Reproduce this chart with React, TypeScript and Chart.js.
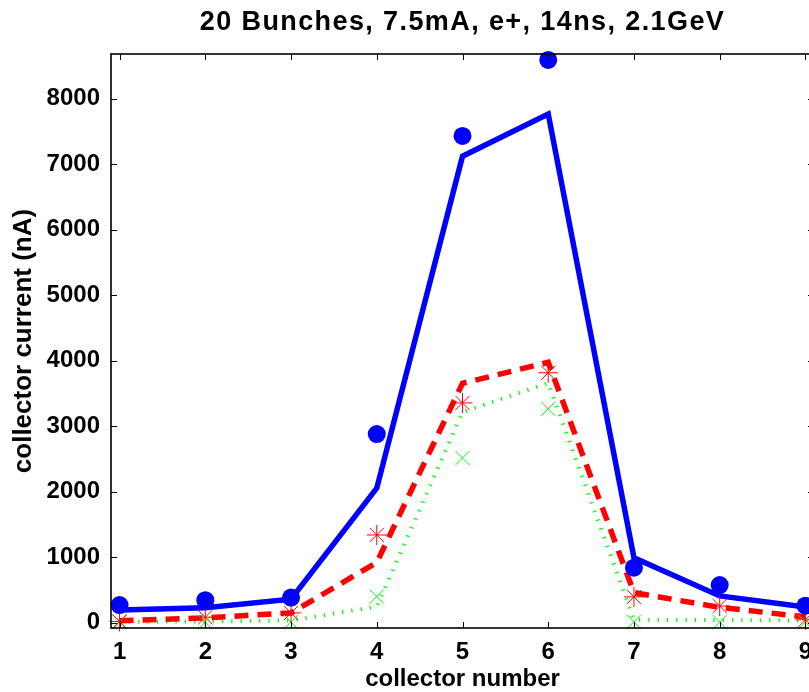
import React, { useEffect, useRef } from 'react';
import { Chart, registerables } from 'chart.js';

Chart.register(...registerables);

// ---- data ----
const collectors = [1, 2, 3, 4, 5, 6, 7, 8, 9];
const blueLine = [195, 230, 360, 2055, 7120, 7765, 990, 410, 240];
const blueDots = [270, 345, 385, 2880, 7430, 8590, 840, 575, 260];
const redLine = [30, 75, 150, 920, 3655, 3975, 460, 235, 90];
const redStars = [20, 85, 150, 1340, 3355, 3815, 395, 255, 45];
const greenLine = [15, 20, 35, 245, 3215, 3660, 45, 40, 35];
const greenCross = [10, 10, 10, 400, 2515, 3265, 15, 10, 10];

const xTicks = [1, 2, 3, 4, 5, 6, 7, 8, 9];
const yTicks = [0, 1000, 2000, 3000, 4000, 5000, 6000, 7000, 8000];

const titleText = '20 Bunches, 7.5mA, e+, 14ns, 2.1GeV';
const xTitle = 'collector number';
const yTitle = 'collector current (nA)';

const FONT = "'Liberation Sans', Arial, Helvetica, sans-serif";
const BLUE = 'rgb(0,0,255)';
const RED = 'rgb(255,0,0)';
const GREEN = 'rgb(0,255,0)';

const W = 830;
const H = 692;

export default function App() {
  const ref = useRef<HTMLCanvasElement>(null);

  useEffect(() => {
    const canvas = ref.current;
    if (!canvas) return;
    const pts = (arr: number[]) => collectors.map((c, i) => ({ x: c, y: arr[i] }));

    // widen the title's letter spacing (title is drawn before datasets; all axis text after)
    const spacingPlugin = {
      id: 'titleSpacing',
      beforeDraw(chart: any) {
        (chart.ctx as any).letterSpacing = '1.4px';
      },
      beforeDatasetsDraw(chart: any) {
        (chart.ctx as any).letterSpacing = '0px';
      },
    };

    const framePlugin = {
      id: 'matlabFrame',
      afterDatasetsDraw(chart: any) {
        const { ctx, chartArea, scales } = chart;
        const { left, right, top, bottom } = chartArea;
        const xs = scales.x;
        const ys = scales.y;
        const tl = 6;
        ctx.save();
        ctx.strokeStyle = '#000';
        ctx.lineWidth = 1;
        ctx.beginPath();
        for (const v of xTicks) {
          const px = Math.round(xs.getPixelForValue(v)) + 0.5;
          ctx.moveTo(px, bottom);
          ctx.lineTo(px, bottom - tl);
          ctx.moveTo(px, top);
          ctx.lineTo(px, top + tl);
        }
        for (const v of yTicks) {
          const py = Math.round(ys.getPixelForValue(v)) + 0.5;
          ctx.moveTo(left, py);
          ctx.lineTo(left + tl, py);
          ctx.moveTo(right, py);
          ctx.lineTo(right - tl, py);
        }
        ctx.stroke();
        ctx.lineWidth = 1.6;
        ctx.strokeRect(left, top, right - left, bottom - top);
        ctx.restore();
      },
    };

    const chart = new Chart(canvas, {
      type: 'line',
      data: {
        datasets: [
          {
            label: 'measured',
            data: pts(blueDots),
            showLine: false,
            pointStyle: 'circle',
            pointRadius: 9,
            pointBackgroundColor: BLUE,
            pointBorderColor: BLUE,
            pointBorderWidth: 0,
            clip: false,
          },
          {
            label: 'stars',
            data: pts(redStars),
            showLine: false,
            pointStyle: 'star',
            pointRadius: 10,
            pointBorderColor: RED,
            pointBackgroundColor: RED,
            pointBorderWidth: 1,
            clip: false,
          },
          {
            label: 'crosses',
            data: pts(greenCross),
            showLine: false,
            pointStyle: 'crossRot',
            pointRadius: 10,
            pointBorderColor: GREEN,
            pointBackgroundColor: GREEN,
            pointBorderWidth: 1,
            clip: false,
          },
          {
            label: 'blue line',
            data: pts(blueLine),
            borderColor: BLUE,
            borderWidth: 5.5,
            pointRadius: 0,
            tension: 0,
            borderJoinStyle: 'miter',
            clip: false,
          },
          {
            label: 'red line',
            data: pts(redLine),
            borderColor: RED,
            borderWidth: 5.5,
            borderDash: [14, 9],
            borderCapStyle: 'butt',
            pointRadius: 0,
            tension: 0,
            clip: false,
          },
          {
            label: 'green line',
            data: pts(greenLine),
            borderColor: GREEN,
            borderWidth: 4,
            borderDash: [1.3, 8],
            borderCapStyle: 'butt',
            pointRadius: 0,
            tension: 0,
            clip: false,
          },
        ],
      },
      options: {
        responsive: false,
        animation: false,
        devicePixelRatio: 1,
        layout: { padding: { left: 0, right: W - 814, top: 0, bottom: 0 } },
        plugins: {
          legend: { display: false },
          tooltip: { enabled: false },
          title: {
            display: true,
            text: titleText,
            color: '#000',
            fullSize: false,
            font: { family: FONT, size: 27, weight: 'bold', lineHeight: 1.2 },
            padding: { top: 6.5, bottom: 15.1 },
          },
        },
        scales: {
          x: {
            type: 'linear',
            position: 'bottom',
            min: 0.9,
            max: 9.1,
            afterBuildTicks: (s: any) => {
              s.ticks = xTicks.map((v) => ({ value: v }));
            },
            afterFit: (s: any) => {
              s.height = H - 628;
            },
            grid: { display: false, drawTicks: false, z: 1 },
            border: { display: false },
            ticks: {
              z: 1,
              color: '#000',
              padding: 10,
              maxRotation: 0,
              autoSkip: false,
              font: { family: FONT, size: 24, weight: 'bold', lineHeight: 1.2 },
              callback: (v: any) => String(v),
            },
            title: {
              display: true,
              text: xTitle,
              color: '#000',
              font: { family: FONT, size: 24, weight: 'bold', lineHeight: 1 },
              padding: { top: 0, bottom: 0.5 },
            },
          },
          y: {
            type: 'linear',
            min: -80,
            max: 8680,
            afterBuildTicks: (s: any) => {
              s.ticks = yTicks.map((v) => ({ value: v }));
            },
            afterFit: (s: any) => {
              s.width = 111;
            },
            grid: { display: false, drawTicks: false, z: 1 },
            border: { display: false },
            ticks: {
              z: 1,
              color: '#000',
              padding: 11,
              autoSkip: false,
              font: { family: FONT, size: 24, weight: 'bold', lineHeight: 1.2 },
              callback: (v: any) => String(v),
            },
            title: {
              display: true,
              text: yTitle,
              color: '#000',
              font: { family: FONT, size: 26, weight: 'bold', lineHeight: 1.2 },
              padding: { top: 8.4, bottom: 0 },
            },
          },
        },
      },
      plugins: [spacingPlugin, framePlugin],
    } as any);

    return () => chart.destroy();
  }, []);

  return (
    <div
      style={{
        position: 'fixed',
        left: 0,
        top: 0,
        width: 809,
        height: 692,
        overflow: 'hidden',
        background: '#fff',
      }}
    >
      <canvas ref={ref} width={W} height={H} style={{ display: 'block', width: W, height: H }} />
    </div>
  );
}
